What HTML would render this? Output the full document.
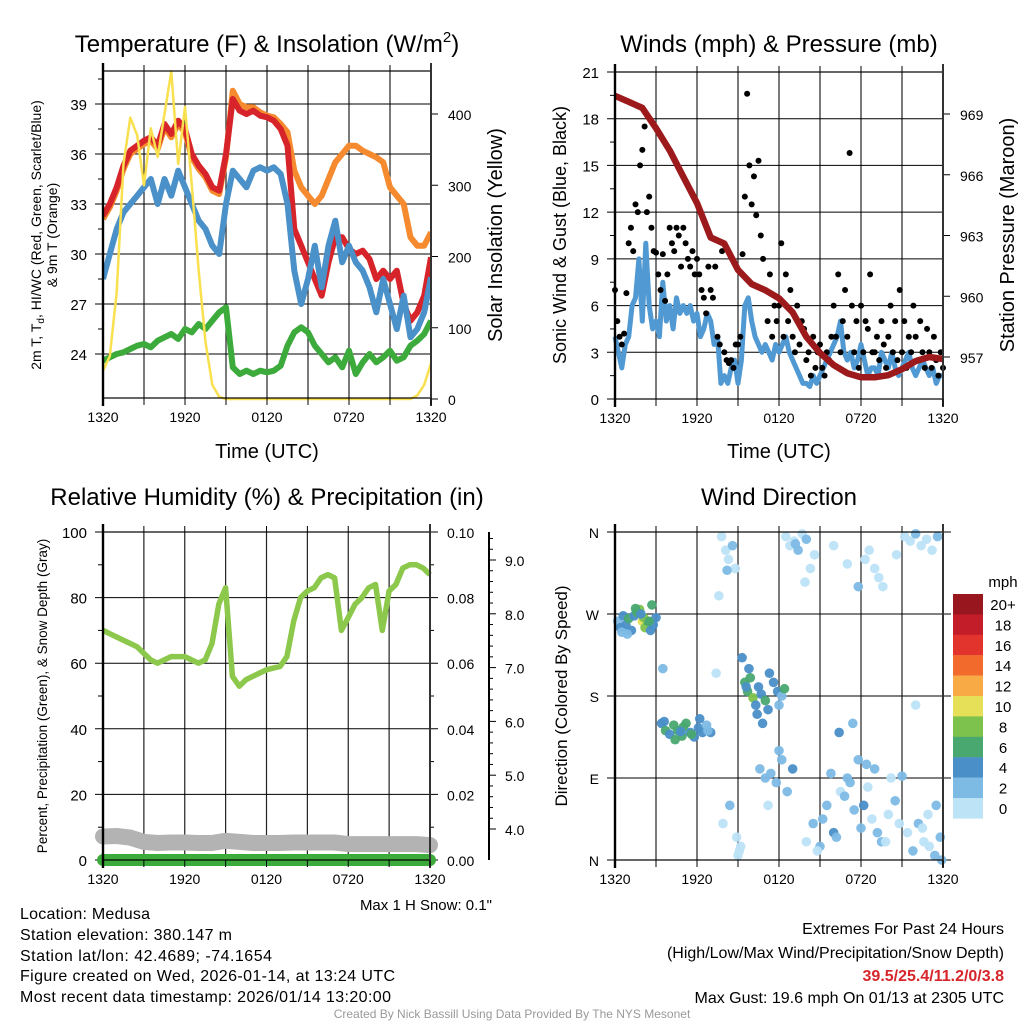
<!DOCTYPE html>
<html><head><meta charset="utf-8"><style>
html,body{margin:0;padding:0;background:#fff}
svg{display:block;font-family:"Liberation Sans",Arial,sans-serif}
</style></head><body>
<svg id="s" xmlns="http://www.w3.org/2000/svg" width="1024" height="1024" viewBox="0 0 1024 1024">
<rect width="1024" height="1024" fill="#fff"/>
<g id="g1"></g>
<g id="g2"></g>
<g id="g3"></g>
<g id="g4"></g>
<g font-size="24" text-anchor="middle" fill="#000">
<text x="267" y="52">Temperature (F) &amp; Insolation (W/m<tspan font-size="15" dy="-10">2</tspan><tspan dy="10">)</tspan></text>
<text x="779" y="52">Winds (mph) &amp; Pressure (mb)</text>
<text x="267" y="505">Relative Humidity (%) &amp; Precipitation (in)</text>
<text x="779" y="505">Wind Direction</text>
</g>
<g fill="#000" text-anchor="middle">
<text x="267" y="458" font-size="20">Time (UTC)</text>
<text x="779" y="458" font-size="20">Time (UTC)</text>
<text transform="translate(41,235) rotate(-90)" font-size="14">2m T, T<tspan font-size="10" dy="3">d</tspan><tspan dy="-3">, HI/WC (Red, Green, Scarlet/Blue)</tspan></text>
<text transform="translate(57,235) rotate(-90)" font-size="14">&amp; 9m T (Orange)</text>
<text transform="translate(502,235) rotate(-90)" font-size="20">Solar Insolation (Yellow)</text>
<text transform="translate(566,235) rotate(-90)" font-size="18">Sonic Wind &amp; Gust (Blue, Black)</text>
<text transform="translate(1014,235) rotate(-90)" font-size="20">Station Pressure (Maroon)</text>
<text transform="translate(47,696) rotate(-90)" font-size="13.5">Percent, Precipitation (Green), &amp; Snow Depth (Gray)</text>
<text transform="translate(567,696) rotate(-90)" font-size="17">Direction (Colored By Speed)</text>
<text x="492" y="910" font-size="15" text-anchor="end">Max 1 H Snow: 0.1"</text>
</g>
<g font-size="16" fill="#000">
<text x="20" y="919" textLength="130">Location: Medusa</text>
<text x="20" y="940" textLength="212">Station elevation: 380.147 m</text>
<text x="20" y="961" textLength="252">Station lat/lon: 42.4689; -74.1654</text>
<text x="20" y="981" textLength="375">Figure created on Wed, 2026-01-14, at 13:24 UTC</text>
<text x="20" y="1002" textLength="371">Most recent data timestamp: 2026/01/14 13:20:00</text>
</g>
<g font-size="16" fill="#000" text-anchor="end">
<text x="1004" y="934">Extremes For Past 24 Hours</text>
<text x="1004" y="958">(High/Low/Max Wind/Precipitation/Snow Depth)</text>
<text x="1004" y="981" fill="#d7262b" font-weight="bold">39.5/25.4/11.2/0/3.8</text>
<text x="1004" y="1003">Max Gust: 19.6 mph On 01/13 at 2305 UTC</text>
</g>
<text x="512" y="1018" font-size="12" fill="#999" text-anchor="middle">Created By Nick Bassill Using Data Provided By The NYS Mesonet</text>
</svg>
<script>
// ---- data ----
const timeTicks = ["1320","1920","0120","0720","1320"];
const tempRed = [32.3,33,34,35.3,36.2,36.5,36.8,37,36.5,37.8,37.2,38,37.5,36,35.3,34.8,34,33.8,36,39.3,38.6,38.4,38.6,38.3,38.2,38,37.5,36.5,31.5,30.5,29.5,28.5,27.5,29.5,31,31,30.3,30,30.2,29.7,28.5,29,28.5,29,27,26,26.5,27.5,29.8];
const tempOrange = [32.1,32.8,33.8,35.1,36,36.3,36.6,36.8,36.3,37.6,37,37.8,37.3,35.8,35.1,34.6,33.8,33.6,35.8,39.8,39,38.8,38.8,38.5,38.3,38.2,37.8,37.3,35,34,33.5,33,33.5,34.5,35.5,36,36.5,36.5,36.2,36,35.8,35.5,34,33.5,33,31,30.5,30.5,31.3];
const tempBlue = [28.5,30,31.5,32.5,33,33.5,34,34.5,33,34.5,33.5,35,34,33,32,31.5,30.5,30,33,35,34.5,34,35,35.2,35,35.2,34.8,33,29,27,28.5,30.5,28,30.5,32,29.5,30.5,29.5,29,28,26.5,28.5,27,25.5,27.5,25,25.5,26.5,28.6];
const tempGreen = [23.6,23.8,24,24.1,24.3,24.5,24.6,24.4,24.8,25,25.2,24.9,25.5,25.3,25.8,25.5,26,26.5,26.8,23.2,22.8,23,22.8,23,22.9,23,23.3,24.5,25.3,25.6,25.3,24.5,24,23.5,23.8,23.2,24.2,22.8,23.5,24,23.5,23.8,24.2,23.6,23.8,24.5,24.8,25.2,26];
const solar = [40,60,150,330,395,370,300,380,340,400,460,330,410,300,180,80,20,3,0,0,0,0,0,0,0,0,0,0,0,0,0,0,0,0,0,0,0,0,0,0,0,0,0,0,0,0,5,20,50];
const tempTicks = [24,27,30,33,36,39];
const solarTicks = [0,100,200,300,400];

const windSpeed = [4,3,2,3.5, 4,6,6.5,9, 5,10,6,4.5, 5,4,7.5,5, 6,4.5,6.5,5.5, 6,5.5,6,5, 5.5,4,4.5,5.5, 5,3.5,4,1, 1.5,1,2,2.5, 1,2.5,6,6.5, 5,4,3.5,3, 3.5,3,2.5,3.5, 3,3.5,4,3, 2.5,2,1.5,1, 1,0.8,1.5,1, 1.5,2,2.5,3, 3.5,4,5,3, 2.5,3,2,2.5, 3.5,2.5,1.5,2, 2,1.5,3,2.5, 2,3,2,1.5, 2,2.5,3,2, 1.5,2,2.5,2, 1.5,2,1,1.5, 1.5];
const windGust = [7,5,4,3.5,4.2,6.8, 10,11,9.5,12.5,12,15, 16,17.5,12,13,11,9.5, 9.4,8,7,9.3,6.3,8, 11,10,9.5,11,10.5,8.5, 11,10,9,8.5,9.5,8, 9,8,7,6.5,5.5,8.5, 7,6.5,8.5,4,3.5,9.5, 3,2.5,2.3,2.5,2,3.5, 3.5,4,9.3,13,19.6,15, 12.5,14.3,11.8,15.3,10.5,9, 7,5,8,4,6,5, 6,10,4,8,5,7, 4,3,6,3.5,5,4.5, 2.5,3,1.5,4,2,3, 3.5,2,1.5,3,2.5,4, 6,4,8,3,5,7, 4,15.8,6,3,5,2, 6,3,5,4.5,8,3, 3,4,2.5,5,3.5,2, 4,6,3,5,2.5,7, 3,5,2,4,3,6, 4,2.5,5,3,2,4.5, 3,2,4,2.5,1.5,3, 2];
const pressure = [969.9,969.6,969.3,968.3,967.2,965.9,964.6,962.9,962.6,961.3,960.6,960.3,959.9,959.2,958.0,957.2,956.6,956.2,956.0,956.0,956.1,956.4,956.8,957.0,956.9];
const windTicks = [0,3,6,9,12,15,18,21];
const pressTicks = [957,960,963,966,969];

const humidity = [70,69,68,67,66,65,63,61,60,61,62,62,62,61,60,61,66,78,83,56,53,55,56,57,58,58.5,59,62,73,80,82,83,86,87,86,70,74,78,80,83,84,70,82,84,89,90,90,89,87];
const precip = [0,0,0,0,0,0,0,0,0,0,0,0,0,0,0,0,0,0,0,0,0,0,0,0,0];
const snowDepth = [3.86,3.87,3.84,3.76,3.74,3.75,3.75,3.74,3.74,3.78,3.76,3.74,3.74,3.74,3.75,3.75,3.75,3.75,3.72,3.72,3.72,3.72,3.72,3.72,3.70];
const rhTicks = [0,20,40,60,80,100];
const precipTicks = ["0.00","0.02","0.04","0.06","0.08","0.10"];
const snowTicks = [4,5,6,7,8,9];

const wdHour = [0.2,0.4,0.6,0.8,1.0,1.2,1.4,1.6,1.8,2.0,2.2,2.4,2.6,2.8,3.0,0.5,1.5,2.1,2.7,1.9,0.9,2.5,
 3.4,3.7,4.0,4.3,4.6,4.9,5.2,5.5,5.8,6.1,6.4,6.7,7.0,3.6,4.4,5.0,5.6,6.2,6.8,4.8,
 3.5,7.4,
 7.8,8.1,8.3,8.6,8.8,9.0,9.2,7.9,8.4,8.9,9.1,7.6,8.2,
 9.3,9.5,9.7,9.9,10.1,10.3,10.5,10.7,11.0,11.3,11.6,11.9,12.2,9.6,10.4,11.2,12.0,10.8,9.8,12.4,
 10.6,11.0,11.4,11.8,12.2,12.6,13.0,11.2,12.0,
 12.5,12.8,13.1,13.4,13.7,14.0,14.3,14.6,13.2,13.9,
 14.0,14.5,15.0,15.5,16.0,16.5,17.0,17.5,18.0,18.5,19.0,19.5,20.0,20.5,15.2,16.2,17.2,18.2,19.2,20.2,14.8,16.8,18.8,17.8,15.8,19.8,16.4,17.4,18.4,20.8,21.0,22.0,
 18.3,18.6,19.0,19.3,19.6,17.0,16.0,17.8,20.6,
 21.2,21.6,22.0,22.4,22.8,23.2,23.6,21.8,22.6,23.4,21.4,22.2,23.0,23.8,22.5,23.5,22.9,23.9];
const wdDir = [262,255,268,258,265,252,268,272,275,262,255,262,252,258,266,250,276,266,280,270,248,262,
 150,142,138,148,142,136,150,140,135,145,140,148,140,152,132,146,138,155,142,141,
 210,205,
 355,340,330,345,320,5,15,40,60,25,10,290,318,
 222,195,185,200,178,170,190,182,175,205,195,185,180,190,160,165,170,150,210,188,
 100,90,95,85,110,75,100,60,120,
 355,345,350,340,358,352,320,335,347,305,
 20,40,15,60,30,75,90,55,35,80,100,20,50,65,45,25,85,60,30,90,10,70,45,110,95,20,140,150,105,40,92,170,
 330,340,320,310,300,325,345,300,335,
 355,350,358,345,352,340,355,10,20,5,30,40,15,25,35,60,50,0];
const wdSpeed = [3,4,5,4,6,5,4,7,9,10,8,6,5,4,5,3,7,9,6,4,3,7,
 5,6,5,7,6,7,6,5,4,5,4,3,4,5,6,7,6,4,3,5,
 3,1,
 1,1,0,2,1,0,1,1,2,1,0,1,2,
 5,6,7,6,8,5,4,5,6,4,4,5,3,4,5,4,3,4,4,6,
 2,3,3,2,3,2,4,1,2,
 0,1,1,2,1,3,0,1,2,1,
 1,2,3,2,4,1,2,3,2,1,2,3,1,2,2,3,2,4,2,1,0,3,1,2,3,1,4,3,2,1,2,1,
 0,0,1,0,1,0,1,3,0,
 1,0,2,1,0,1,3,2,1,3,1,2,1,2,1,2,1,3];
const dirTicks = ["N","E","S","W","N"];
const speedLabels = ["0","2","4","6","8","10","12","14","16","18","20+"];
const speedColors = ["#bde3f7","#7dbbe5","#4a8fc8","#48a870","#7dc24c","#e6df58","#f8ab45","#f26a2c","#e2332c","#c21d28","#98161d"];

// ---- helpers ----
const NS="http://www.w3.org/2000/svg";
function mk(parent,tag,attrs){const e=document.createElementNS(NS,tag);for(const k in attrs)e.setAttribute(k,attrs[k]);parent.appendChild(e);return e;}
function txt(parent,x,y,s,size,anchor){const t=mk(parent,"text",{x:x,y:y,"font-size":size,"text-anchor":anchor,fill:"#000"});t.textContent=s;return t;}
function lin(a0,a1,b0,b1){return v=>b0+(v-a0)*(b1-b0)/(a1-a0);}
function pathFrom(arr,xs,ys){const n=arr.length;let d="";for(let i=0;i<n;i++){const h=i*24/(n-1);d+=(i?"L":"M")+xs(h).toFixed(1)+","+ys(arr[i]).toFixed(1);}return d;}
function grid(g,x0,x1,y0,y1){
  for(let h=3;h<24;h+=3){const x=x0+h*(x1-x0)/24;const l=mk(g,"line",{x1:x,x2:x,y1:y0,y2:y1,stroke:"#222","stroke-width":1.2});
    mk(g,"line",{x1:x,x2:x,y1:y0-6,y2:y0,stroke:"#000","stroke-width":1});}
}
function xAxis(g,x0,x1,yb){
  for(let i=0;i<timeTicks.length;i++){const x=x0+i*6*(x1-x0)/24;const t=txt(g,x,yb+24,timeTicks[i],14,"middle");}
  for(let h=0;h<=24;h+=3){const x=x0+h*(x1-x0)/24;mk(g,"line",{x1:x,x2:x,y1:yb,y2:yb+7,stroke:"#000","stroke-width":1});}
}
function box(g,x0,x1,y0,y1){
  const r=mk(g,"rect",{x:x0,y:y0,width:x1-x0,height:y1-y0,fill:"none",stroke:"#000","stroke-width":1.2});
  mk(g,"line",{x1:x0,x2:x0,y1:y0-8,y2:y1+8,stroke:"#000","stroke-width":2.4});
  mk(g,"line",{x1:x1,x2:x1,y1:y0-8,y2:y1+8,stroke:"#333","stroke-width":2});
}

// ---- panel 1 ----
(function(){
  const g=document.getElementById("g1");const X0=103,X1=431,Y0=71,Y1=398;
  const xs=lin(0,24,X0,X1), yt=lin(39,24,104,354), yS=lin(0,400,399,114);
  grid(g,X0,X1,Y0,Y1);
  tempTicks.forEach(v=>{const y=yt(v);mk(g,"line",{x1:X0-8,x2:X1,y1:y,y2:y,stroke:"#000","stroke-width":1});const t=txt(g,X0-16,y+6,String(v),15,"end");
    const ym=yt(v+1.5);if(ym>Y0)mk(g,"line",{x1:X0-5,x2:X0,y1:ym,y2:ym,stroke:"#000"});});
  solarTicks.forEach(v=>{const y=yS(v);mk(g,"line",{x1:X1,x2:X1+7,y1:y,y2:y,stroke:"#000"});const t=txt(g,X1+17,y+6,String(v),14,"start");});
  const clip=mk(g,"clipPath",{id:"c1"});mk(clip,"rect",{x:X0,y:Y0-30,width:X1-X0,height:Y1-Y0+30});
  const series=[[tempGreen,"#3cab3c","dewpoint-line"],[tempOrange,"#f58a2e","temp-9m-line"],[tempRed,"#d7242a","temp-2m-line"],[tempBlue,"#4a90c9","windchill-line"]];
  series.forEach(s=>{const p=mk(g,"path",{d:pathFrom(s[0],xs,yt),fill:"none",stroke:s[1],"stroke-width":6,"stroke-linejoin":"round","clip-path":"url(#c1)"});});
  const p=mk(g,"path",{d:pathFrom(solar,xs,yS),fill:"none",stroke:"#f9e04f","stroke-width":2.5,"stroke-linejoin":"round"});
  box(g,X0,X1,Y0,Y1);xAxis(g,X0,X1,Y1);
})();

// ---- panel 2 ----
(function(){
  const g=document.getElementById("g2");const X0=615,X1=943,Y0=72,Y1=399;
  const xs=lin(0,24,X0,X1), yw=lin(0,21,399,72), yp=lin(957,969,357,114);
  grid(g,X0,X1,Y0,Y1);
  windTicks.forEach(v=>{const y=yw(v);mk(g,"line",{x1:X0-8,x2:X1,y1:y,y2:y,stroke:"#000","stroke-width":1});const t=txt(g,X0-16,y+6,String(v),15,"end");
    if(v<21){const ym=yw(v+1.5);mk(g,"line",{x1:X0-5,x2:X0,y1:ym,y2:ym,stroke:"#000"});}});
  pressTicks.forEach(v=>{const y=yp(v);mk(g,"line",{x1:X1,x2:X1+7,y1:y,y2:y,stroke:"#000"});const t=txt(g,X1+17,y+6,String(v),14,"start");});
  const w=mk(g,"path",{d:pathFrom(windSpeed,xs,yw),fill:"none",stroke:"#5199d2","stroke-width":5,"stroke-linejoin":"round"});
  const n=windGust.length;
  for(let i=0;i<n;i++){const c=mk(g,"circle",{cx:xs(i*24/(n-1)),cy:yw(windGust[i]),r:3,fill:"#000"});}
  const p=mk(g,"path",{d:pathFrom(pressure,xs,yp),fill:"none",stroke:"#9c1a1c","stroke-width":6.5,"stroke-linejoin":"round"});
  box(g,X0,X1,Y0,Y1);xAxis(g,X0,X1,Y1);
})();

// ---- panel 3 ----
(function(){
  const g=document.getElementById("g3");const X0=103,X1=430,Y0=532,Y1=860;
  const xs=lin(0,24,X0,X1), yr=lin(0,100,860,532), ysn=lin(4,9,829,560), ypr=lin(0,0.1,860,532);
  grid(g,X0,X1,Y0,Y1);
  rhTicks.forEach(v=>{const y=yr(v);mk(g,"line",{x1:X0-8,x2:X1+8,y1:y,y2:y,stroke:"#000","stroke-width":1});const t=txt(g,X0-16,y+6,String(v),15,"end");
    if(v<100){const ym=yr(v+10);mk(g,"line",{x1:X0-5,x2:X0,y1:ym,y2:ym,stroke:"#000"});mk(g,"line",{x1:X1,x2:X1+4,y1:ym,y2:ym,stroke:"#000"});}});
  precipTicks.forEach((s,i)=>{const y=ypr(i*0.02);const t=txt(g,X1+17,y+6,s,14,"start");});
  const ax=mk(g,"line",{x1:489,x2:489,y1:532,y2:860,stroke:"#000","stroke-width":2});
  snowTicks.forEach(v=>{const y=ysn(v);mk(g,"line",{x1:489,x2:496,y1:y,y2:y,stroke:"#000"});const t=txt(g,505,y+6,v.toFixed(1),14,"start");
    for(let k=1;k<5;k++){const ym=ysn(v+k*0.2);if(ym>532)mk(g,"line",{x1:489,x2:493,y1:ym,y2:ym,stroke:"#000"});}});
  const sn=mk(g,"path",{d:pathFrom(snowDepth,xs,ysn),fill:"none",stroke:"#b3b3b3","stroke-width":16,"stroke-linecap":"round","stroke-linejoin":"round"});
  const pr=mk(g,"path",{d:pathFrom(precip,xs,ypr),fill:"none",stroke:"#3cab3c","stroke-width":12,"stroke-linecap":"round"});
  const rh=mk(g,"path",{d:pathFrom(humidity,xs,yr),fill:"none",stroke:"#8cc84b","stroke-width":5.5,"stroke-linejoin":"round"});
  box(g,X0,X1,Y0,Y1);xAxis(g,X0,X1,Y1);
})();

// ---- panel 4 ----
(function(){
  const g=document.getElementById("g4");const X0=615,X1=943,Y0=532,Y1=860;
  const xs=lin(0,24,X0,X1), yd=lin(0,360,860,532);
  grid(g,X0,X1,Y0,Y1);
  dirTicks.forEach((s,i)=>{const y=yd(i*90);mk(g,"line",{x1:X0-8,x2:X1+8,y1:y,y2:y,stroke:"#000","stroke-width":1});const t=txt(g,X0-16,y+6,s,14,"end");});
  for(let i=0;i<wdHour.length;i++){const b=Math.min(10,Math.floor(wdSpeed[i]/2));const c=mk(g,"circle",{cx:xs(wdHour[i]),cy:yd(wdDir[i]),r:4.8,fill:speedColors[b],"fill-opacity":0.95});}
  box(g,X0,X1,Y0,Y1);xAxis(g,X0,X1,Y1);
  const lg=mk(g,"g",{});
  const t0=txt(lg,1003,587,"mph",15,"middle");
  for(let i=0;i<speedLabels.length;i++){const k=speedLabels.length-1-i;const y=594+i*20.4;
    const r=mk(lg,"rect",{x:953,y:y,width:30,height:20.6,fill:speedColors[k]});
    const t=txt(lg,1003,y+16,speedLabels[k],15,"middle");}
})();
</script>
</body></html>
